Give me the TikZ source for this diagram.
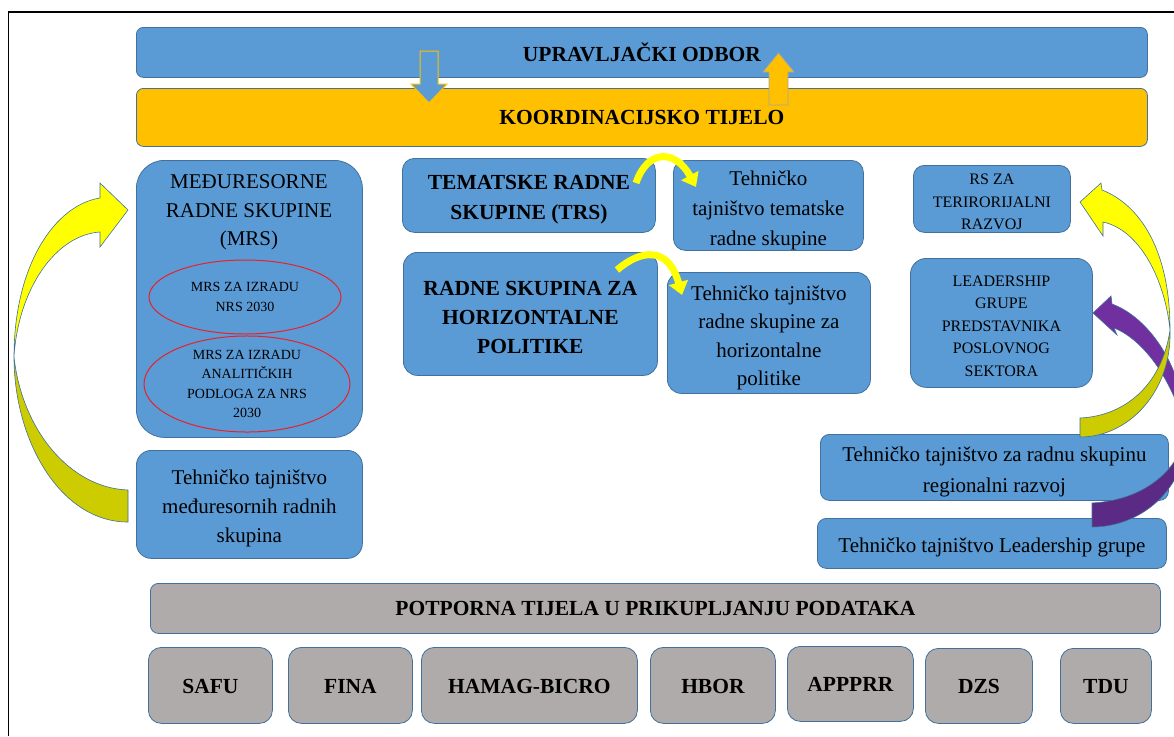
\documentclass[tikz,border=0pt]{standalone}
\usepackage{fontspec}
\setmainfont{LiberationSerif}[Extension=.ttf, UprightFont=*-Regular, BoldFont=*-Bold, ItalicFont=*-Italic, BoldItalicFont=*-BoldItalic]
\usetikzlibrary{shapes.geometric,arrows.meta}
\definecolor{boxblue}{HTML}{5B9BD5}
\definecolor{boxline}{HTML}{41719C}
\definecolor{korange}{HTML}{FFC000}
\definecolor{kgray}{HTML}{AFABAB}
\definecolor{ayellow}{HTML}{FFFF00}
\definecolor{aolive}{HTML}{CCCC00}
\definecolor{apurple}{HTML}{7030A0}
\definecolor{apurpled}{HTML}{5A2A84}
\definecolor{ered}{HTML}{E8202A}
\newcommand\tgap[1]{\rule{0pt}{#1}}
\begin{document}
\begin{tikzpicture}[x=1pt,y=-1pt,
  bx/.style={draw=boxline, line width=0.8pt, fill=boxblue, rounded corners=#1,
    inner sep=0pt, align=center, anchor=north west, text=black},
  gx/.style={bx=#1, fill=kgray},
  ox/.style={bx=#1, fill=korange},
  hd/.style={font=\fontsize{21.5}{#1}\selectfont\bfseries},
  rg/.style={font=\fontsize{21}{#1}\selectfont},
  sm/.style={font=\fontsize{16}{22.5}\selectfont},
  el/.style={font=\fontsize{14}{19.5}\selectfont},
  ell/.style={ellipse, draw=ered, line width=1pt, inner sep=0pt, align=center, el},
  blk/.style={line width=0.6pt, draw=boxline},
  thin/.style={ayellow, line width=7pt, -{Triangle[length=13pt, width=19pt]}}
]
\fill[white] (0,0) rectangle (1174,736);
\useasboundingbox (0,0) rectangle (1174,736);
\clip (0,0) rectangle (1174,736);

% frame
\draw[line width=1.6pt] (8.5,736) -- (8.5,12) -- (1174,12);

% top bars
\node[bx=7pt, hd=26, minimum width=1011pt, minimum height=50pt] (uo) at (136,27) {UPRAVLJAČKI ODBOR};
\node[ox=7pt, hd=26, minimum width=1011pt, minimum height=58pt] (kt) at (136,88) {KOORDINACIJSKO TIJELO};

% left column
\node[bx=28pt, minimum width=226pt, minimum height=277pt] (mrs) at (136,160) {};
\node[rg=28.5, align=center, inner sep=0pt] (mrst) at (249,212.5) {MEĐURESORNE\\RADNE SKUPINE\\(MRS)};
\node[ell, minimum width=192pt, minimum height=74pt] (mrs1) at (245,297) {MRS ZA IZRADU\\NRS 2030};
\node[ell, minimum width=206pt, minimum height=82pt] (mrs2) at (247,384) {MRS ZA IZRADU\\ANALITIČKIH\\PODLOGA ZA NRS\\2030};
\node[bx=15pt, rg=29, minimum width=226pt, minimum height=108pt] (ttm) at (136,450) {\tgap{22.5pt}Tehničko tajništvo\\međuresornih radnih\\skupina};

% middle column
\node[bx=12pt, hd=30, minimum width=253pt, minimum height=74pt] (trs) at (402,158) {\tgap{22.3pt}TEMATSKE RADNE\\SKUPINE (TRS)};
\node[bx=12pt, rg=30, minimum width=190pt, minimum height=90pt] (ttt) at (673,160) {\tgap{24.5pt}Tehničko\\tajništvo tematske\\radne skupine};
\node[bx=14pt, hd=29, minimum width=254pt, minimum height=123pt] (rsh) at (403,252) {\tgap{22.3pt}RADNE SKUPINA ZA\\HORIZONTALNE\\POLITIKE};
\node[bx=14pt, rg=28.5, minimum width=203pt, minimum height=121pt] (tth) at (667,272) {\tgap{24.5pt}Tehničko tajništvo\\radne skupine za\\horizontalne\\politike};

% right column
\node[bx=11pt, sm, minimum width=157pt, minimum height=67pt] (rst) at (913,165) {\tgap{16.6pt}RS ZA\\TERIRORIJALNI\\RAZVOJ};
\node[bx=16pt, sm, minimum width=182pt, minimum height=129pt] (lgp) at (910,258) {\tgap{16.6pt}LEADERSHIP\\GRUPE\\PREDSTAVNIKA\\POSLOVNOG\\SEKTORA};
\node[bx=9pt, rg=31, minimum width=348pt, minimum height=66pt] (ttr) at (820,434) {\tgap{24.5pt}Tehničko tajništvo za radnu skupinu\\regionalni razvoj};
\node[bx=9pt, rg=26, minimum width=349pt, minimum height=50pt] (ttl) at (817,518) {\tgap{22.5pt}Tehničko tajništvo Leadership grupe};

% bottom
\node[gx=8pt, hd=26, minimum width=1010pt, minimum height=50pt] (pot) at (150,583) {POTPORNA TIJELA U PRIKUPLJANJU PODATAKA};
\node[gx=13pt, hd=26, minimum width=124pt, minimum height=76pt] (safu) at (148,647) {\tgap{16.3pt}SAFU};
\node[gx=13pt, hd=26, minimum width=124pt, minimum height=76pt] (fina) at (288,647) {\tgap{16.3pt}FINA};
\node[gx=13pt, hd=26, minimum width=216pt, minimum height=76pt] (hamag) at (421,647) {\tgap{16.3pt}HAMAG-BICRO};
\node[gx=13pt, hd=26, minimum width=125pt, minimum height=76pt] (hbor) at (650,647) {\tgap{16.3pt}HBOR};
\node[gx=13pt, hd=26, minimum width=126pt, minimum height=75pt] (apppr) at (787,646) {APPPRR};
\node[gx=13pt, hd=26, minimum width=107pt, minimum height=75pt] (dzs) at (925,648) {\tgap{16.3pt}DZS};
\node[gx=13pt, hd=26, minimum width=91pt, minimum height=75pt] (tdu) at (1060,648) {\tgap{16.3pt}TDU};

% top block arrows
\filldraw[fill=boxblue, draw=korange, line width=1pt]
  (420,51) -- (438,51) -- (438,84) -- (447,84) -- (429,103) -- (411,84) -- (420,84) -- cycle;
\filldraw[fill=korange, draw=gray!70, line width=0.8pt]
  (769,105) -- (769,72) -- (763,72) -- (778.5,53) -- (794,72) -- (788,72) -- (788,105) -- cycle;

% left curved arrow
\filldraw[blk, fill=ayellow] (100,198) .. controls (55,205) and (14,265) .. (14,357)
  .. controls (18,290) and (55,235) .. (100,232) -- (100,247) -- (128,210) -- (100,183) -- cycle;
\filldraw[blk, fill=aolive] (14,357) .. controls (14,440) and (60,522) .. (128,522)
  -- (128,490) .. controls (70,488) and (22,430) .. (14,357) -- cycle;

% middle small arrows
\draw[thin] (636,183) .. controls (648,148) and (676,150) .. (696,187);
\draw[thin] (617,270) .. controls (640,250) and (668,245) .. (682,295);

% purple curved arrow
\filldraw[blk, fill=apurple] (1112,304) .. controls (1150,318) and (1186,370) .. (1186,435)
  .. controls (1176,385) and (1145,340) .. (1114,328) -- (1117,335) -- (1093,313) -- (1111,296) -- cycle;
\filldraw[blk, fill=apurpled] (1186,435) .. controls (1186,490) and (1140,527) .. (1092,527)
  -- (1092,503) .. controls (1145,500) and (1178,470) .. (1186,435) -- cycle;

% right yellow curved arrow
\filldraw[blk, fill=ayellow] (1102,190) .. controls (1140,205) and (1170,250) .. (1170,330)
  .. controls (1165,280) and (1140,230) .. (1103,222) -- (1103,236) -- (1080,202) -- (1101,183) -- cycle;
\filldraw[blk, fill=aolive] (1170,330) .. controls (1172,390) and (1130,437) .. (1080,437)
  -- (1080,418) .. controls (1125,416) and (1162,385) .. (1170,330) -- cycle;
\end{tikzpicture}
\end{document}
